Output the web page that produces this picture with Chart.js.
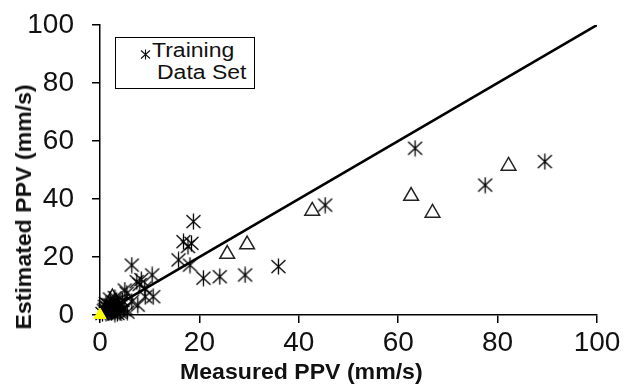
<!DOCTYPE html>
<html>
<head>
<meta charset="utf-8">
<script src="https://cdn.jsdelivr.net/npm/chart.js@4/dist/chart.umd.min.js"></script>
<style>
  body { margin: 0; background: #fff; }
  #wrap { position: relative; width: 624px; height: 390px; font-family: 'Liberation Sans', Arial, sans-serif; }
  #legend {
    position: absolute; left: 115px; top: 37px; width: 138px; height: 50px;
    border: 1px solid #000; background: #fff; font-size: 20px; color: #111;
  }
  #legend .l1 { position: absolute; left: 36px; top: 1px; transform: scaleX(1.15); transform-origin: left; }
  #legend .l2 { position: absolute; left: 41px; top: 23px; transform: scaleX(1.15); transform-origin: left; }
  #legend svg { position: absolute; left: 24px; top: 11px; }
  .axtitle { position: absolute; font-size: 22px; font-weight: bold; color: #111; white-space: nowrap; line-height: 22px; }
  #xtitle { left: 180px; top: 361px; transform: scaleX(1.05); transform-origin: left; }
  #ytitle { left: 24px; top: 207px; transform: translate(-50%, -50%) rotate(-90deg) scaleX(1.05); }
</style>
</head>
<body>
<div id="wrap">
  <canvas id="chart" width="624" height="390"></canvas>
  <div id="legend">
    <svg width="11" height="11" viewBox="0 0 11 11">
      <path d="M5.5 0.5 V10.5 M1 1.5 L10 9.5 M10 1.5 L1 9.5" stroke="#111" stroke-width="1.1" fill="none"/>
    </svg>
    <span class="l1">Training</span>
    <span class="l2">Data Set</span>
  </div>
  <div class="axtitle" id="xtitle">Measured PPV (mm/s)</div>
  <div class="axtitle" id="ytitle">Estimated PPV (mm/s)</div>
</div>
<script>
// valores
const trainingMeasured = [0.8, 1.2, 1.5, 1.8, 2.0, 2.3, 2.6, 2.8, 3.0, 3.2, 3.5, 3.6, 4.0, 4.2, 4.5, 1.0, 2.0, 3.0, 5.0, 5.5,
  0.5, 1.0, 1.5, 2.0, 2.5, 3.0, 3.5, 4.0, 1.2, 2.8, 3.8, 4.8, 2.2, 1.6, 3.3,
  5.0, 5.4, 6.4, 7.6, 9.1, 10.7, 7.4, 8.0, 8.3, 6.4, 10.5, 9.0, 15.8, 16.8, 18.4, 17.7, 18.8, 18.1,
  20.8, 24.1, 29.2, 35.9, 45.3, 63.4, 77.5, 89.5];
const trainingEstimated = [1.5, 0.6, 2.5, 1.2, 3.5, 0.8, 2.0, 4.5, 1.2, 3.0, 0.5, 2.2, 3.8, 1.5, 5.0, 3.0, 5.5, 6.0, 2.5, 1.0,
  0.5, 2.0, 1.0, 2.0, 3.0, 0.3, 3.5, 1.0, 4.0, 1.8, 2.8, 1.8, 1.5, 3.6, 4.8,
  8.6, 7.5, 4.6, 3.4, 6.3, 6.3, 11.5, 10.5, 12.2, 17.2, 13.8, 9.3, 19.0, 25.3, 24.7, 23.6, 32.2, 17.2,
  12.7, 13.2, 13.8, 16.7, 37.9, 57.5, 44.8, 52.9];

const otherMeasured = [2.5, 25.6, 29.6, 42.7, 62.6, 66.9, 82.2];
const otherEstimated = [6.0, 21.0, 24.3, 35.9, 41.0, 35.2, 51.4];

const originMeasured = [0];
const originEstimated = [0];

const lineMeasured = [0, 100];
const lineEstimated = [0, 100];

const axisTicks = [0, 20, 40, 60, 80, 100];

function toPoints(xs, ys) {
  return xs.map(function (x, i) { return { x: x, y: ys[i] }; });
}

// asterisco de 6 brazos
function makeAsterisk() {
  const c = document.createElement('canvas');
  c.width = 17; c.height = 17;
  const g = c.getContext('2d');
  g.strokeStyle = '#000';
  g.lineWidth = 1.3;
  g.beginPath();
  g.moveTo(8.5, 0.5); g.lineTo(8.5, 16.5);
  g.moveTo(1.5, 2); g.lineTo(15.5, 15);
  g.moveTo(15.5, 2); g.lineTo(1.5, 15);
  g.stroke();
  return c;
}

const fontFamily = "'Liberation Sans', Arial, sans-serif";

function axis(pad) {
  return {
    type: 'linear',
    min: 0,
    max: 100,
    afterBuildTicks: function (scale) {
      scale.ticks = axisTicks.map(function (v) { return { value: v }; });
    },
    ticks: { font: { family: fontFamily, size: 28 }, color: '#111', padding: pad },
    grid: { drawOnChartArea: false, drawTicks: true, tickLength: 8, color: '#000', lineWidth: 1.5 },
    border: { color: '#000', width: 1.5 },
    title: { display: false }
  };
}

const xAxis = axis(3);
xAxis.afterFit = function (scale) {
  scale.height = 75;
  scale.paddingLeft = 0;
  scale.paddingRight = 0;
};
const yAxis = axis(18);
yAxis.afterFit = function (scale) {
  scale.width = 100;
  scale.paddingTop = 0;
  scale.paddingBottom = 0;
};

new Chart(document.getElementById('chart'), {
  type: 'scatter',
  data: {
    datasets: [
      {
        label: 'Origin',
        data: toPoints(originMeasured, originEstimated),
        pointStyle: 'triangle',
        pointRadius: 7,
        backgroundColor: '#ffff00',
        borderColor: '#ffff00',
        borderWidth: 1,
        clip: false
      },
      {
        type: 'line',
        label: '1:1',
        data: toPoints(lineMeasured, lineEstimated),
        borderColor: '#000',
        borderWidth: 2.6,
        pointRadius: 0,
        fill: false
      },
      {
        label: 'Training Data Set',
        data: toPoints(trainingMeasured, trainingEstimated),
        pointStyle: makeAsterisk(),
        clip: false
      },
      {
        label: 'Other',
        data: toPoints(otherMeasured, otherEstimated),
        pointStyle: 'triangle',
        pointRadius: 8.5,
        backgroundColor: 'rgba(0,0,0,0)',
        borderColor: '#222',
        borderWidth: 1.5,
        clip: false
      }
    ]
  },
  options: {
    responsive: false,
    animation: false,
    layout: { padding: { top: 25, right: 27, left: 0, bottom: 0 } },
    plugins: { legend: { display: false }, tooltip: { enabled: false } },
    scales: { x: xAxis, y: yAxis }
  }
});
</script>
</body>
</html>
